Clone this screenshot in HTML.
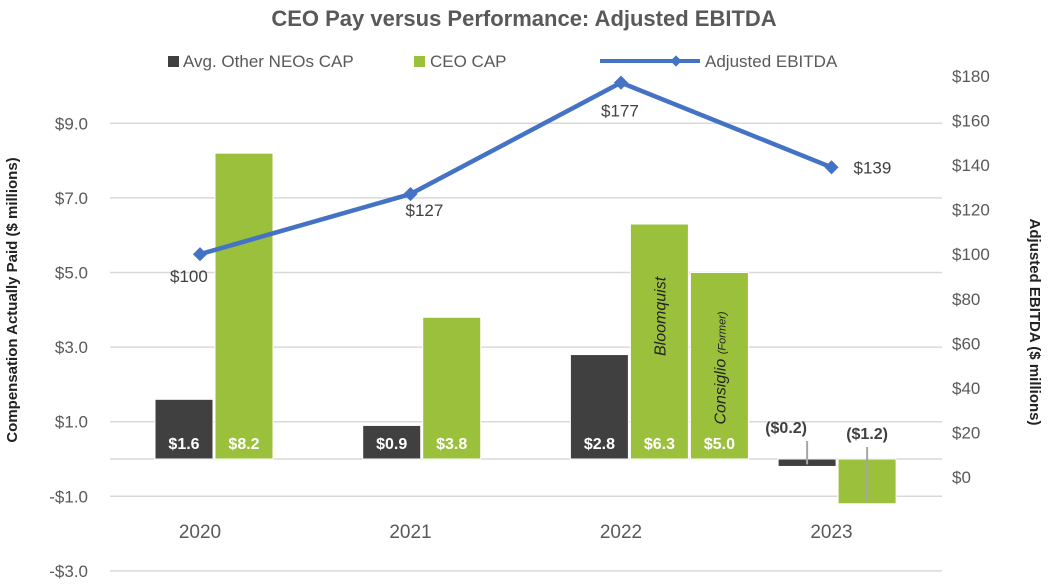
<!DOCTYPE html>
<html><head><meta charset="utf-8"><style>
body{margin:0;background:#fff;}
svg{display:block;font-family:"Liberation Sans",sans-serif;}
</style></head><body>
<svg id="c" width="1048" height="584">
<text x="524" y="26" text-anchor="middle" font-size="22" font-weight="bold" fill="#595959">CEO Pay versus Performance: Adjusted EBITDA</text>
<g>
<rect x="168" y="56" width="11" height="11" fill="#404040"/>
<text x="183" y="67" font-size="17" fill="#595959">Avg. Other NEOs CAP</text>
<rect x="414" y="56" width="11" height="11" fill="#9BC13C"/>
<text x="430" y="67" font-size="17" fill="#595959">CEO CAP</text>
<line x1="600" y1="61" x2="700" y2="61" stroke="#4472C4" stroke-width="4"/>
<rect x="672" y="57" width="8" height="8" fill="#4472C4" transform="rotate(45 676 61)"/>
<text x="705" y="67" font-size="17" fill="#595959">Adjusted EBITDA</text>
</g>
<text transform="translate(17,300) rotate(-90)" text-anchor="middle" font-size="15" font-weight="bold" fill="#222">Compensation Actually Paid ($ millions)</text>
<text transform="translate(1030,322) rotate(90)" text-anchor="middle" font-size="15" font-weight="bold" fill="#222">Adjusted EBITDA ($ millions)</text>
<g id="grid"></g><g id="bars"></g><g id="line"></g><g id="labels"></g>
</svg>
<script>
const years=["2020","2021","2022","2023"];
const neo=[1.6,0.9,2.8,-0.2];
const ceo=[8.2,3.8,6.3,-1.2];
const former=[null,null,5.0,null];
const ebitda=[100,127,177,139];
const leftTicks=[-3,-1,1,3,5,7,9];
const rightTicks=[0,20,40,60,80,100,120,140,160,180];
const NS="http://www.w3.org/2000/svg";
const yL=v=>459-v*37.3;
const yR=v=>477-v*2.228;
const xC=i=>200+i*210.5;
const xB=i=>200+i*207.7;
function mk(tag,attrs,parent,text){const e=document.createElementNS(NS,tag);for(const k in attrs)e.setAttribute(k,attrs[k]);if(text!==undefined)e.textContent=text;document.getElementById(parent).appendChild(e);return e;}
leftTicks.forEach(t=>{
 const g=mk("line",{x1:110,x2:942,y1:yL(t),y2:yL(t),stroke:"#d9d9d9","stroke-width":1.5},"grid");
 
 
 const l=mk("text",{x:88,y:yL(t)+6,"text-anchor":"end","font-size":17,fill:"#595959"},"grid",(t<0?"-$":"$")+Math.abs(t).toFixed(1));
 
 
});
const z=mk("line",{x1:110,x2:942,y1:yL(0),y2:yL(0),stroke:"#d9d9d9","stroke-width":1.5},"grid");


rightTicks.forEach(t=>{
 const l=mk("text",{x:952,y:yR(t)+6,"font-size":17,fill:"#595959"},"grid","$"+t);
 
 
});
function fmt(v){return v<0?"($"+Math.abs(v).toFixed(1)+")":"$"+v.toFixed(1);}
function bar(x,v,col,name){
 const y0=yL(0),y1=yL(v);
 const r=mk("rect",{x:x,width:58,y:Math.min(y0,y1),height:Math.abs(y1-y0),fill:col,stroke:"#fff","stroke-width":1},"bars");
 
 
 if(v>=0){
  const t=mk("text",{x:x+29,y:y0-10,"text-anchor":"middle","font-size":16,"font-weight":"bold",fill:"#fff"},"labels",fmt(v));
  
  
 }else{
  const ly=Math.min(y0,y1)-(v<-0.5?20:26);
  const ln=mk("line",{x1:x+29,x2:x+29,y1:ly+8,y2:Math.max(y0,y1)-2,stroke:"#a6a6a6","stroke-width":2},"labels");
  
  
  const t=mk("text",{x:x+(v<-0.5?29:8),y:ly,"text-anchor":"middle","font-size":16,"font-weight":"bold",fill:"#404040"},"labels",fmt(v));
  
  
 }
}
years.forEach((yr,i)=>{
 const c=xB(i);
 bar(c-45,neo[i],"#404040","bar-neo-"+yr);
 bar(c+15,ceo[i],"#9BC13C","bar-ceo-"+yr);
 if(former[i]!=null){
  bar(c+75,former[i],"#9BC13C","bar-ceo-former-"+yr);
  const a=mk("text",{transform:`translate(${c+50},${yL(ceo[i])+132}) rotate(-90)`,"font-size":16,"font-style":"italic",fill:"#222"},"labels","Bloomquist");
  
  
  const b=mk("text",{transform:`translate(${c+110},${yL(former[i])+152}) rotate(-90)`,"font-size":16,"font-style":"italic",fill:"#222"},"labels");
  
  
  b.innerHTML='Consiglio <tspan font-size="11">(Former)</tspan>';
 }
 const yl=mk("text",{x:xC(i),y:538,"text-anchor":"middle","font-size":19,fill:"#595959"},"labels",yr);
 
 
});
const pts=ebitda.map((v,i)=>[xC(i),yR(v)]);
const pl=mk("polyline",{points:pts.map(p=>p.join(",")).join(" "),fill:"none",stroke:"#4472C4","stroke-width":4.5,"stroke-linejoin":"round"},"line");


const off=[[-30,28],[-5,22],[-20,34],[22,6]];
pts.forEach((p,i)=>{
 const m=mk("rect",{x:p[0]-5,y:p[1]-5,width:10,height:10,fill:"#4472C4",transform:`rotate(45 ${p[0]} ${p[1]})`},"line");
 
 
 const t=mk("text",{x:p[0]+off[i][0],y:p[1]+off[i][1],"font-size":17,fill:"#404040"},"labels","$"+ebitda[i]);
 
 
});
</script>
</body></html>
